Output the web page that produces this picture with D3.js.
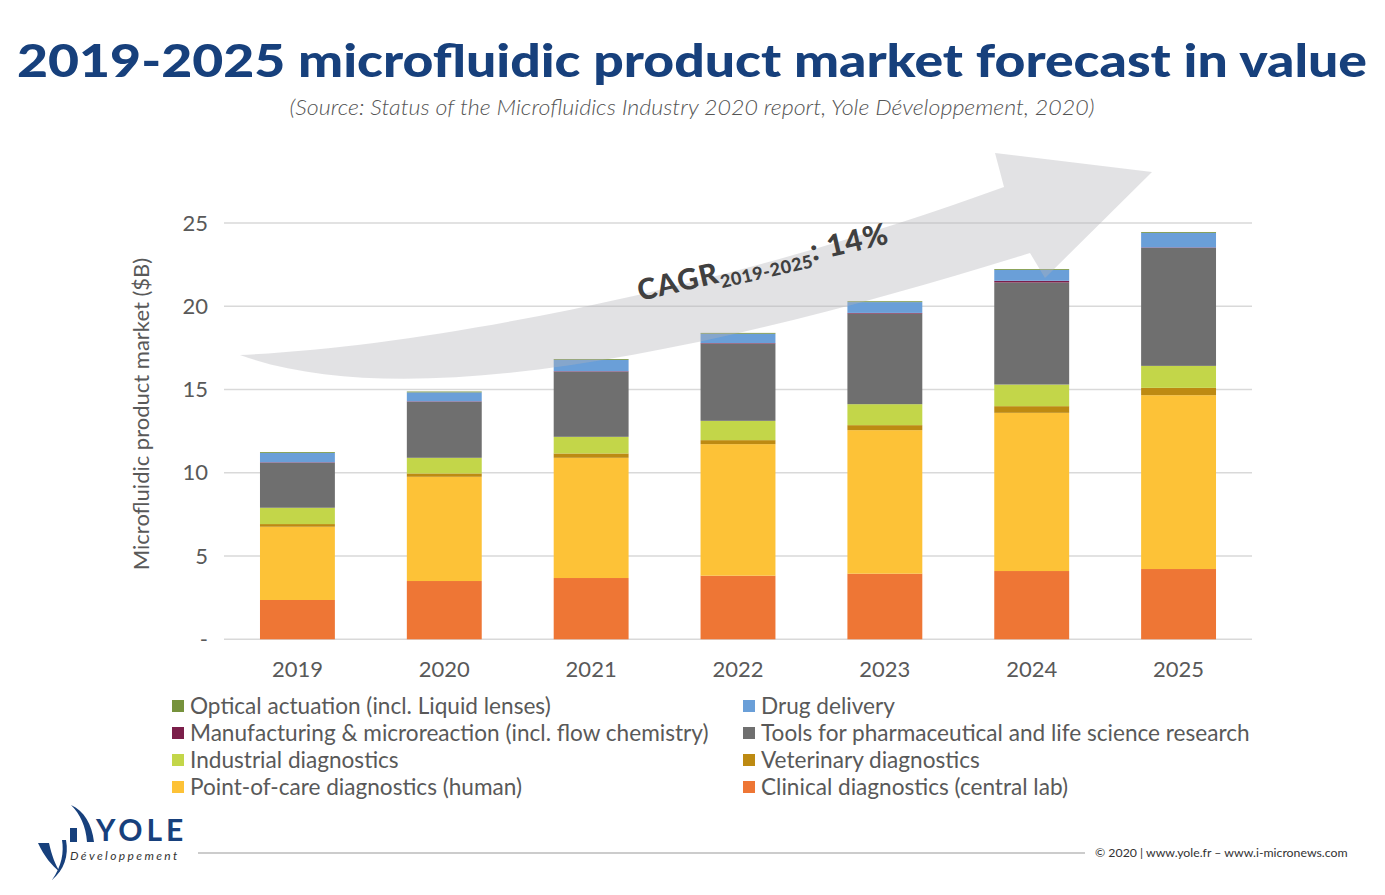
<!DOCTYPE html>
<html>
<head>
<meta charset="utf-8">
<script src="https://cdn.jsdelivr.net/npm/d3@7"></script>
<style>
  body { margin: 0; background: #fff; }
  svg { display: block; }
  text { font-family: Lato, "Open Sans", sans-serif; }
</style>
</head>
<body>
<svg id="chart" width="1385" height="895"></svg>
<script>
// years on the x axis
var years = ["2019", "2020", "2021", "2022", "2023", "2024", "2025"];

// segment values, $B (bottom to top of each bar)
var clinical      = [2.36, 3.50, 3.68, 3.82, 3.94, 4.10, 4.22];
var pointOfCare   = [4.40, 6.26, 7.22, 7.90, 8.62, 9.50, 10.44];
var veterinary    = [0.16, 0.20, 0.26, 0.24, 0.30, 0.40, 0.44];
var industrial    = [0.98, 0.94, 1.00, 1.16, 1.26, 1.30, 1.32];
var tools         = [2.70, 3.36, 3.91, 4.64, 5.44, 6.13, 7.08];
var manufacturing = [0.03, 0.03, 0.03, 0.03, 0.04, 0.10, 0.03];
var drugDelivery  = [0.56, 0.54, 0.68, 0.56, 0.65, 0.65, 0.88];
var optical       = [0.05, 0.05, 0.05, 0.05, 0.05, 0.05, 0.05];

var yTicks = [0, 5, 10, 15, 20, 25];
var yTickLabels = ["-", "5", "10", "15", "20", "25"];

// series: key, legend label, colour
var series = [
  {key: "clinical", label: "Clinical diagnostics (central lab)", values: clinical, color: "#ee7635"},
  {key: "poc", label: "Point-of-care diagnostics (human)", values: pointOfCare, color: "#fdc237"},
  {key: "vet", label: "Veterinary diagnostics", values: veterinary, color: "#bd8a12"},
  {key: "ind", label: "Industrial diagnostics", values: industrial, color: "#c3d649"},
  {key: "tools", label: "Tools for pharmaceutical and life science research", values: tools, color: "#6f6f6f"},
  {key: "manu", label: "Manufacturing & microreaction (incl. flow chemistry)", values: manufacturing, color: "#7b1e4a"},
  {key: "drug", label: "Drug delivery", values: drugDelivery, color: "#6a9fd8"},
  {key: "opt", label: "Optical actuation (incl. Liquid lenses)", values: optical, color: "#76923c"}
];

// legend layout order as in the picture (left column, right column)
var legendLeft = ["opt", "manu", "ind", "poc"];
var legendRight = ["drug", "tools", "vet", "clinical"];

var svg = d3.select("#chart");

// title + source
svg.append("text")
  .attr("x", 692).attr("y", 77)
  .attr("text-anchor", "middle")
  .attr("textLength", 1350).attr("lengthAdjust", "spacingAndGlyphs")
  .style("font-size", "46px").style("font-weight", 900)
  .style("fill", "#17407c")
  .text("2019-2025 microfluidic product market forecast in value");

svg.append("text")
  .attr("x", 692).attr("y", 115)
  .attr("text-anchor", "middle")
  .attr("textLength", 805).attr("lengthAdjust", "spacingAndGlyphs")
  .style("font-size", "22px").style("font-style", "italic").style("font-weight", 300)
  .style("fill", "#555")
  .text("(Source: Status of the Microfluidics Industry 2020 report, Yole Développement, 2020)");

// scales
var x = d3.scaleBand().domain(years).range([224, 1252]).paddingInner(0.49).paddingOuter(0.245);
var y = d3.scaleLinear().domain([0, 25]).range([639.3, 223]);

// grid
svg.append("g").selectAll("line")
  .data(yTicks)
  .join("line")
  .attr("x1", 224).attr("x2", 1252)
  .attr("y1", function(d) { return y(d); })
  .attr("y2", function(d) { return y(d); })
  .style("stroke", "#d9d9d9").style("stroke-width", 1.5);

// y tick labels
svg.append("g").selectAll("text")
  .data(yTicks)
  .join("text")
  .attr("x", 208)
  .attr("y", function(d) { return y(d); })
  .attr("dy", "0.35em")
  .attr("text-anchor", "end")
  .style("font-size", "22px").style("fill", "#595959")
  .text(function(d, i) { return yTickLabels[i]; });

// x labels
svg.append("g").selectAll("text")
  .data(years)
  .join("text")
  .attr("x", function(d) { return x(d) + x.bandwidth() / 2; })
  .attr("y", 677)
  .attr("text-anchor", "middle")
  .style("font-size", "22px").style("fill", "#595959")
  .text(function(d) { return d; });

// y axis title
svg.append("text")
  .attr("transform", "translate(149,414) rotate(-90)")
  .attr("text-anchor", "middle")
  .style("font-size", "22px").style("fill", "#595959")
  .text("Microfluidic product market ($B)");

// stacked bars
var rows = years.map(function(yr, i) {
  var r = {year: yr};
  series.forEach(function(s) { r[s.key] = s.values[i]; });
  return r;
});
var stack = d3.stack().keys(series.map(function(s) { return s.key; }));
var layers = stack(rows);

svg.append("g").selectAll("g")
  .data(layers)
  .join("g")
  .style("fill", function(d, i) { return series[i].color; })
  .selectAll("rect")
  .data(function(d) { return d; })
  .join("rect")
  .attr("x", function(d) { return x(d.data.year); })
  .attr("width", x.bandwidth())
  .attr("y", function(d) { return y(d[1]); })
  .attr("height", function(d) { return y(d[0]) - y(d[1]); });

// growth arrow, drawn translucent over the bars
svg.append("path")
  .attr("d", "M240,355 C450,345 750,280 1004,187 L995,153 L1152,172 L1045,278 L1030,253 C750,340 420,420 240,355 Z")
  .style("fill", "#b4b4b8").style("opacity", 0.38);

// CAGR label
var cagr = svg.append("text")
  .attr("transform", "translate(640,301) rotate(-13)")
  .style("font-weight", 900).style("fill", "#404040");
cagr.append("tspan").style("font-size", "29px").style("letter-spacing", "1px").text("CAGR");
cagr.append("tspan").style("font-size", "18px").style("letter-spacing", "0.5px").attr("dy", 6).text("2019-2025");
cagr.append("tspan").style("font-size", "30px").style("letter-spacing", "1px").attr("dy", -6).text(": 14%");

// legend
function legendColumn(keys, x0) {
  var g = svg.append("g");
  keys.forEach(function(k, i) {
    var s = series.find(function(d) { return d.key === k; });
    var cy = 706 + i * 27;
    g.append("rect").attr("x", x0).attr("y", cy - 6).attr("width", 12).attr("height", 12).style("fill", s.color);
    g.append("text").attr("x", x0 + 18).attr("y", cy).attr("dy", "0.35em")
      .style("font-size", "22.6px").style("fill", "#595959").text(s.label);
  });
}
legendColumn(legendLeft, 172);
legendColumn(legendRight, 743);

// footer
svg.append("line").attr("x1", 198).attr("x2", 1085).attr("y1", 853).attr("y2", 853)
  .style("stroke", "#9a9a9a").style("stroke-width", 1.2);
svg.append("text").attr("x", 1095).attr("y", 857)
  .style("font-size", "12.3px").style("fill", "#333")
  .text("© 2020 | www.yole.fr – www.i-micronews.com");

// logo
var logo = svg.append("g").style("fill", "#17407c");
logo.append("path").attr("d", "M38,843 L49,843 C52,856 55,864 60,872 C52,866 44,856 38,843 Z");
logo.append("path").attr("d", "M52,880 C62,866 64,852 62,840 L66,840 C69,856 64,870 52,880 Z");
logo.append("rect").attr("x", 70).attr("y", 828).attr("width", 7).attr("height", 14);
logo.append("path").attr("d", "M71,805 C84,811 92,824 94,842 L87,842 C86,826 80,814 71,805 Z");
logo.append("text").attr("x", 96).attr("y", 841)
  .style("font-size", "30px").style("font-weight", 700).style("letter-spacing", "4px")
  .text("YOLE");
logo.append("text").attr("x", 70).attr("y", 860)
  .style("font-size", "12px").style("font-style", "italic").style("letter-spacing", "2.4px")
  .style("fill", "#333")
  .text("Développement");
</script>
</body>
</html>
